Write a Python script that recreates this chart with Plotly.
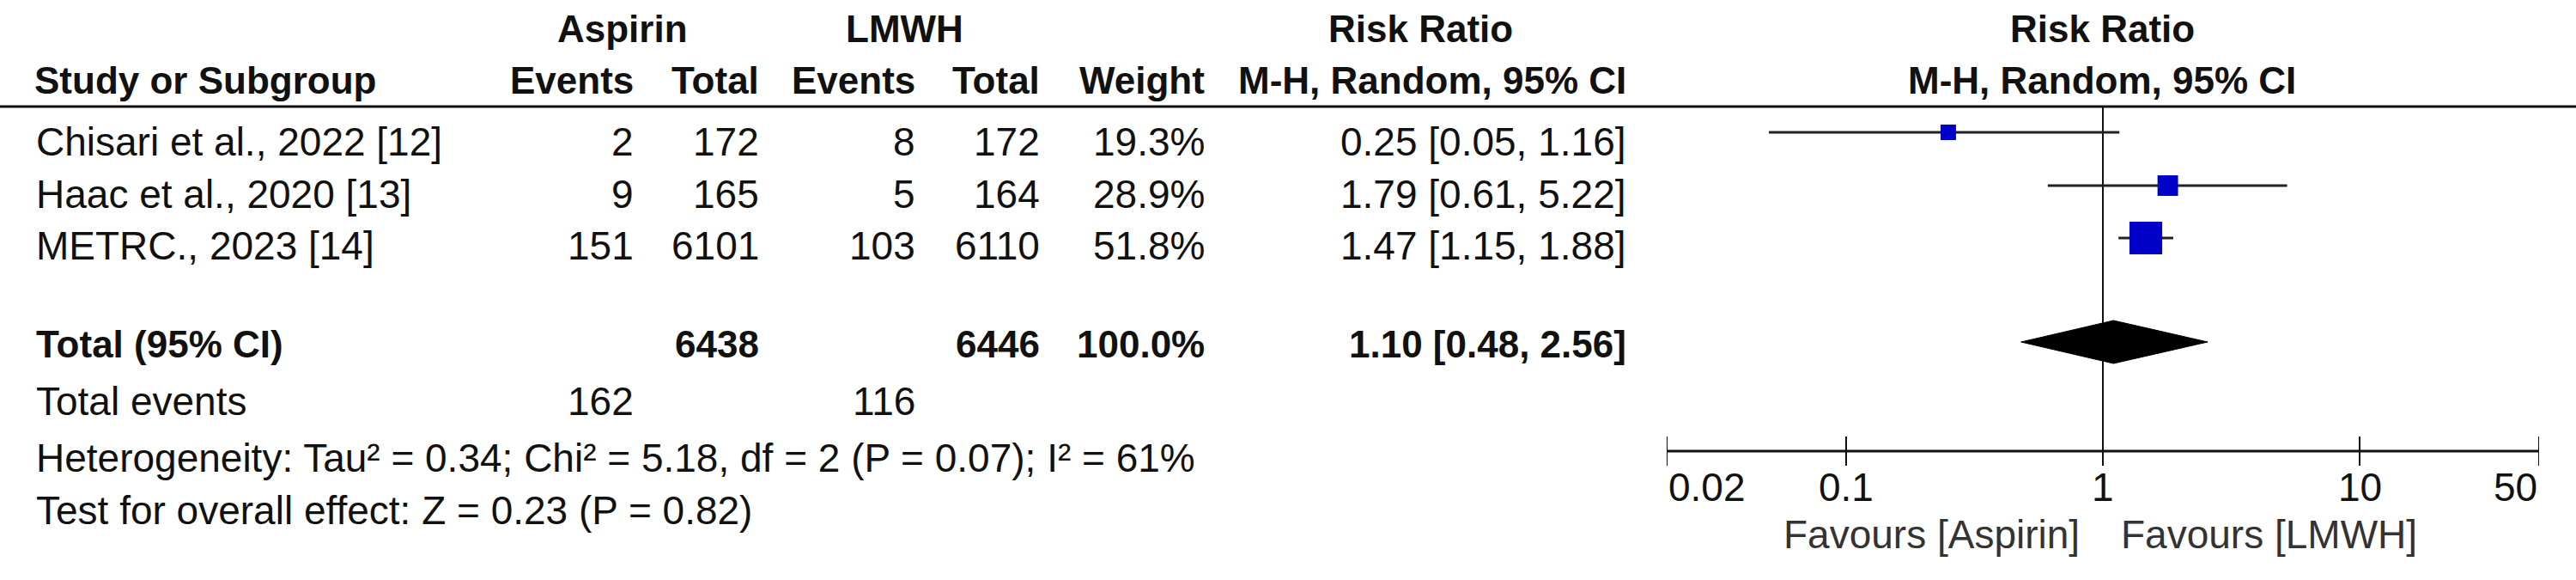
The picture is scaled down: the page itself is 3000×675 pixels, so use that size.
import numpy as np
import plotly.graph_objects as go

# ---------------- data ----------------
studies = ["Chisari et al., 2022 [12]", "Haac et al., 2020 [13]", "METRC., 2023 [14]"]
aspirin_events = [2, 9, 151]
aspirin_total = [172, 165, 6101]
lmwh_events = [8, 5, 103]
lmwh_total = [172, 164, 6110]
weights = [19.3, 28.9, 51.8]
rr = [0.25, 1.79, 1.47]
rr_low = [0.05, 0.61, 1.15]
rr_high = [1.16, 5.22, 1.88]

pooled_rr = 1.10
pooled_low = 0.48
pooled_high = 2.56
total_aspirin = 6438
total_lmwh = 6446
total_events_aspirin = 162
total_events_lmwh = 116
heterogeneity = "Heterogeneity: Tau² = 0.34; Chi² = 5.18, df = 2 (P = 0.07); I² = 61%"
overall_effect = "Test for overall effect: Z = 0.23 (P = 0.82)"

tick_values = [0.02, 0.1, 1, 10, 50]
tick_labels = ["0.02", "0.1", "1", "10", "50"]

# ---------------- layout constants ----------------
W, H = 3000, 675
FONT = "Liberation Sans, Arial, sans-serif"
FS = 46
FSB = 44
TXT = "#111111"
TEXT_ROWS = [165, 226, 286]
MARK_Y = [154, 216, 277]
HEADER1_Y = 33
HEADER2_Y = 93
LINE_Y = 124
TOTAL_Y = 400
DIAMOND_Y = 398
DIAMOND_HALF = 25
EVENTS_Y = 467
HET_Y = 533
TEST_Y = 594
AXIS_Y = 525
TICK_HALF = 17
TICKLAB_Y = 567
FAV_Y = 622

# column right edges (px)
C_NAME = 40
C_E1 = 740
C_T1 = 886
C_E2 = 1068
C_T2 = 1213
C_W = 1405
C_CI = 1896

fig = go.Figure()

def px(x):
    return x / W

def ann(text, x, y, anchor="right", bold=False, color=TXT):
    fig.add_annotation(
        text=f"<b>{text}</b>" if bold else text,
        x=px(x), y=y, xref="paper", yref="y",
        xanchor=anchor, yanchor="middle", showarrow=False,
        font=dict(family=FONT, size=FSB if bold else FS, color=color),
    )

# headers
ann("Aspirin", 725, HEADER1_Y, "center", bold=True)
ann("LMWH", 1053, HEADER1_Y, "center", bold=True)
ann("Risk Ratio", 1654, HEADER1_Y, "center", bold=True)
ann("Risk Ratio", 2448, HEADER1_Y, "center", bold=True)
ann("Study or Subgroup", 38, HEADER2_Y, "left", bold=True)
ann("Events", C_E1, HEADER2_Y, bold=True)
ann("Total", C_T1, HEADER2_Y, bold=True)
ann("Events", C_E2, HEADER2_Y, bold=True)
ann("Total", C_T2, HEADER2_Y, bold=True)
ann("Weight", C_W, HEADER2_Y, bold=True)
ann("M-H, Random, 95% CI", C_CI, HEADER2_Y, bold=True)
ann("M-H, Random, 95% CI", 2448, HEADER2_Y, "center", bold=True)

fig.add_shape(type="line", xref="paper", yref="y", x0=0, x1=1, y0=LINE_Y, y1=LINE_Y,
              line=dict(color="#111111", width=3))

# study rows
for i, name in enumerate(studies):
    y = TEXT_ROWS[i]
    ann(name, C_NAME, y, "left")
    ann(str(aspirin_events[i]), C_E1, y)
    ann(str(aspirin_total[i]), C_T1, y)
    ann(str(lmwh_events[i]), C_E2, y)
    ann(str(lmwh_total[i]), C_T2, y)
    ann(f"{weights[i]:.1f}%", C_W, y)
    ann(f"{rr[i]:.2f} [{rr_low[i]:.2f}, {rr_high[i]:.2f}]", C_CI, y)

# total rows
ann("Total (95% CI)", C_NAME, TOTAL_Y, "left", bold=True)
ann(str(total_aspirin), C_T1, TOTAL_Y, bold=True)
ann(str(total_lmwh), C_T2, TOTAL_Y, bold=True)
ann(f"{sum(weights):.1f}%", C_W, TOTAL_Y, bold=True)
ann(f"{pooled_rr:.2f} [{pooled_low:.2f}, {pooled_high:.2f}]", C_CI, TOTAL_Y, bold=True)
ann("Total events", C_NAME, EVENTS_Y, "left")
ann(str(total_events_aspirin), C_E1, EVENTS_Y)
ann(str(total_events_lmwh), C_E2, EVENTS_Y)
ann(heterogeneity, C_NAME, HET_Y, "left")
ann(overall_effect, C_NAME, TEST_Y, "left")

# ---------------- forest plot ----------------
# line of no effect
fig.add_trace(go.Scatter(x=[1, 1], y=[LINE_Y, AXIS_Y], mode="lines",
                         line=dict(color="#111111", width=2), hoverinfo="skip"))

# CI lines
ci_x, ci_y = [], []
for lo, hi, y in zip(rr_low, rr_high, MARK_Y):
    ci_x += [lo, hi, None]
    ci_y += [y, y, None]
fig.add_trace(go.Scatter(x=ci_x, y=ci_y, mode="lines",
                         line=dict(color="#222222", width=3), hoverinfo="skip"))

# squares sized by weight
sizes = [6 + 0.62 * w for w in weights]
fig.add_trace(go.Scatter(x=rr, y=MARK_Y, mode="markers", opacity=1,
                         marker=dict(symbol="square", size=sizes, color="#0000C8", opacity=1,
                                     line=dict(width=0))))

# pooled diamond
fig.add_trace(go.Scatter(
    x=[pooled_low, pooled_rr, pooled_high, pooled_rr, pooled_low],
    y=[DIAMOND_Y, DIAMOND_Y - DIAMOND_HALF, DIAMOND_Y, DIAMOND_Y + DIAMOND_HALF, DIAMOND_Y],
    mode="lines", fill="toself", fillcolor="#000000",
    line=dict(color="#000000", width=1), hoverinfo="skip"))

# axis line
fig.add_trace(go.Scatter(x=[tick_values[0], tick_values[-1]], y=[AXIS_Y, AXIS_Y], mode="lines",
                         line=dict(color="#111111", width=3), hoverinfo="skip"))
# ticks
tx, ty = [], []
for t in tick_values:
    tx += [t, t, None]
    ty += [AXIS_Y - TICK_HALF, AXIS_Y + TICK_HALF, None]
fig.add_trace(go.Scatter(x=tx, y=ty, mode="lines",
                         line=dict(color="#111111", width=2), hoverinfo="skip"))

for i, (t, lab) in enumerate(zip(tick_values, tick_labels)):
    anchor = "left" if i == 0 else ("right" if i == len(tick_values) - 1 else "center")
    fig.add_annotation(text=lab, x=np.log10(t), y=TICKLAB_Y, xref="x", yref="y",
                       xanchor=anchor, yanchor="middle", showarrow=False,
                       font=dict(family=FONT, size=FS, color=TXT))

fig.add_annotation(text="Favours [Aspirin]", x=0, y=FAV_Y, xref="x", yref="y",
                   xanchor="right", xshift=-25, yanchor="middle", showarrow=False,
                   font=dict(family=FONT, size=FS, color="#333333"))
fig.add_annotation(text="Favours [LMWH]", x=0, y=FAV_Y, xref="x", yref="y",
                   xanchor="left", xshift=19, yanchor="middle", showarrow=False,
                   font=dict(family=FONT, size=FS, color="#333333"))

fig.update_layout(
    width=W, height=H, margin=dict(l=0, r=0, t=0, b=0),
    paper_bgcolor="white", plot_bgcolor="white", showlegend=False,
    xaxis=dict(type="log", range=[np.log10(0.02), np.log10(50)],
               domain=[1941 / W, 2957 / W], visible=False),
    yaxis=dict(range=[H, 0], domain=[0, 1], visible=False),
)

fig.write_html("out.html", config={"displayModeBar": False},
               post_script="document.body.style.margin='0';document.body.style.overflow='hidden';")
